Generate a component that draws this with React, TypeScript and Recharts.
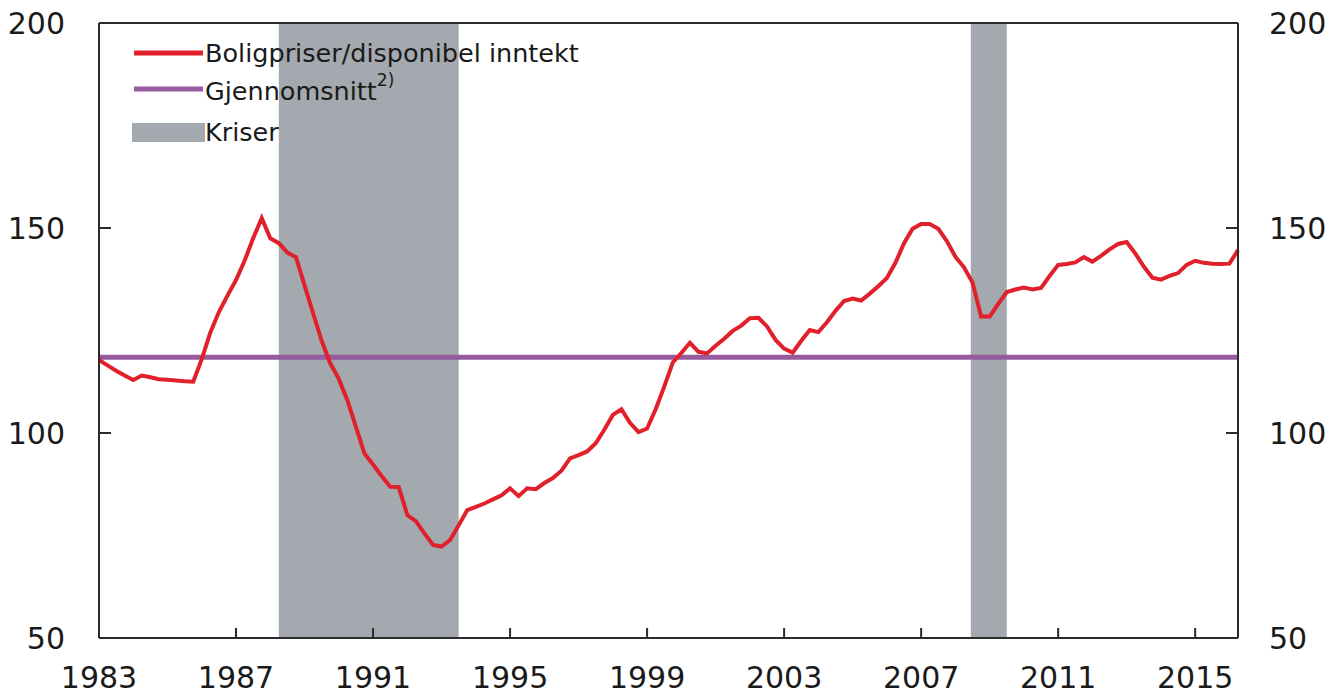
import { LineChart, Line, XAxis, YAxis, ReferenceArea, ReferenceLine, Legend } from 'recharts';

// quarterly, first quarter 1983
const startYear = 1983;
const housePriceToIncome = [
  117.8, 116.5, 115.2, 114.0,
  112.9, 114.0, 113.6, 113.1,
  113.0, 112.8, 112.6, 112.5,
  118.0, 124.5, 129.5, 133.5,
  137.3, 142.0, 147.5, 152.4,
  147.5, 146.3, 144.0, 142.9,
  136.0, 129.2, 122.5, 117.0,
  113.2, 108.0, 101.5, 95.0,
  92.3, 89.5, 86.9, 86.8,
  80.0, 78.5, 75.5, 72.7,
  72.3, 73.9, 77.5, 81.2,
  82.0, 82.8, 83.8, 84.8,
  86.5, 84.6, 86.5, 86.3,
  87.8, 89.0, 90.8, 93.8,
  94.6, 95.5, 97.5, 100.8,
  104.4, 105.8, 102.5, 100.2,
  101.1, 105.8, 111.3, 117.2,
  119.5, 122.0, 119.8, 119.4,
  121.3, 123.0, 124.9, 126.2,
  128.0, 128.1, 126.0, 122.7,
  120.6, 119.6, 122.5, 125.1,
  124.6, 127.0, 129.8, 132.2,
  132.8, 132.3, 134.0, 135.8,
  137.8, 141.5, 146.3, 149.8,
  151.0, 151.0, 149.8, 146.8,
  143.0, 140.4, 136.7, 128.4,
  128.4, 131.5, 134.4, 135.0,
  135.5, 135.0, 135.4, 138.3,
  141.0, 141.2, 141.6, 142.9,
  141.8, 143.2, 144.8, 146.1,
  146.6, 143.8, 140.6, 137.9,
  137.4, 138.3, 139.0, 141.0,
  142.0, 141.5, 141.3, 141.2,
  141.3, 144.6,
];
const average = 118.5;
const crises = [
  [1988.25, 1993.5],
  [2008.45, 2009.5],
];
const xTicks = [1983, 1987, 1991, 1995, 1999, 2003, 2007, 2011, 2015];
const yTicks = [50, 100, 150, 200];

const data = housePriceToIncome.map((v, i) => ({
  t: startYear + i / 4,
  ratio: v,
  avg: average,
}));

const FONT = '"DejaVu Sans", sans-serif';
const TEXT = '#1a1a1a';
const FRAME = '#2b2b2b';
const RED = '#e0202a';
const PURPLE = '#955b9e';
const GREY = '#a3a9ae';

const XTick = (props: any) => {
  const { x, y, payload } = props;
  return (
    <g>
      <line x1={x} x2={x} y1={y} y2={y - 10} stroke={FRAME} strokeWidth={2} />
      <text x={x} y={y + 39} textAnchor="middle" dominantBaseline="central" fontSize={30} fontFamily={FONT} fill={TEXT}>
        {payload.value}
      </text>
    </g>
  );
};

const LeftTick = (props: any) => {
  const { x, y, payload } = props;
  const inner = payload.value !== 50 && payload.value !== 200;
  return (
    <g>
      {inner && <line x1={x} x2={x + 12} y1={y} y2={y} stroke={FRAME} strokeWidth={2} />}
      <text x={x - 34} y={y} textAnchor="end" dominantBaseline="central" fontSize={30} fontFamily={FONT} fill={TEXT}>
        {payload.value}
      </text>
    </g>
  );
};

const RightTick = (props: any) => {
  const { x, y, payload } = props;
  const inner = payload.value !== 50 && payload.value !== 200;
  return (
    <g>
      {inner && <line x1={x} x2={x - 12} y1={y} y2={y} stroke={FRAME} strokeWidth={2} />}
      <text x={x + 31} y={y} textAnchor="start" dominantBaseline="central" fontSize={30} fontFamily={FONT} fill={TEXT}>
        {payload.value}
      </text>
    </g>
  );
};

const ChartLegend = () => (
  <svg width={620} height={160} style={{ display: 'block' }}>
    <line x1={134} x2={203} y1={53} y2={53} stroke={RED} strokeWidth={5} />
    <text x={205} y={53} dominantBaseline="central" fontSize={25.5} fontFamily={FONT} fill={TEXT}>
      Boligpriser/disponibel inntekt
    </text>
    <line x1={134} x2={203} y1={89} y2={89} stroke={PURPLE} strokeWidth={5} />
    <text x={205} y={91} dominantBaseline="central" fontSize={25.5} fontFamily={FONT} fill={TEXT}>
      Gjennomsnitt
      <tspan fontSize={17} dy={-11}>2)</tspan>
    </text>
    <rect x={132} y={123} width={73} height={19} fill={GREY} />
    <text x={205} y={132} dominantBaseline="central" fontSize={25.5} fontFamily={FONT} fill={TEXT}>
      Kriser
    </text>
  </svg>
);

export default function App() {
  return (
    <div style={{ position: 'absolute', left: 0, top: 0, width: 1336, height: 693 }}>
      <LineChart width={1336} height={693} data={data} margin={{ top: 23, right: 0, bottom: 0, left: 0 }}>
        <XAxis
          type="number"
          dataKey="t"
          domain={[1983, 2016.25]}
          ticks={xTicks}
          height={55}
          tickSize={0}
          tickMargin={0}
          tickLine={false}
          axisLine={{ stroke: FRAME, strokeWidth: 2 }}
          tick={<XTick />}
          interval={0}
        />
        <YAxis
          yAxisId="left"
          domain={[50, 200]}
          ticks={yTicks}
          width={99}
          tickSize={0}
          tickMargin={0}
          tickLine={false}
          axisLine={{ stroke: FRAME, strokeWidth: 2 }}
          tick={<LeftTick />}
          interval={0}
        />
        <YAxis
          yAxisId="right"
          orientation="right"
          domain={[50, 200]}
          ticks={yTicks}
          width={98}
          tickSize={0}
          tickMargin={0}
          tickLine={false}
          axisLine={{ stroke: FRAME, strokeWidth: 2 }}
          tick={<RightTick />}
          interval={0}
        />
        {crises.map(([a, b]) => (
          <ReferenceArea key={a} yAxisId="left" x1={a} x2={b} y1={50} y2={200} fill={GREY} fillOpacity={1} stroke="none" />
        ))}
        <ReferenceLine yAxisId="left" y={200} stroke={FRAME} strokeWidth={2} />
        <Line yAxisId="right" dataKey="avg" stroke={PURPLE} strokeWidth={5} dot={false} isAnimationActive={false} />
        <Line yAxisId="left" dataKey="ratio" type="linear" stroke={RED} strokeWidth={4} dot={false} isAnimationActive={false} />
        <Legend
          layout="vertical"
          align="center"
          verticalAlign="middle"
          content={<ChartLegend />}
          wrapperStyle={{ left: 0, top: 0, width: 620, height: 160 }}
        />
      </LineChart>
    </div>
  );
}
